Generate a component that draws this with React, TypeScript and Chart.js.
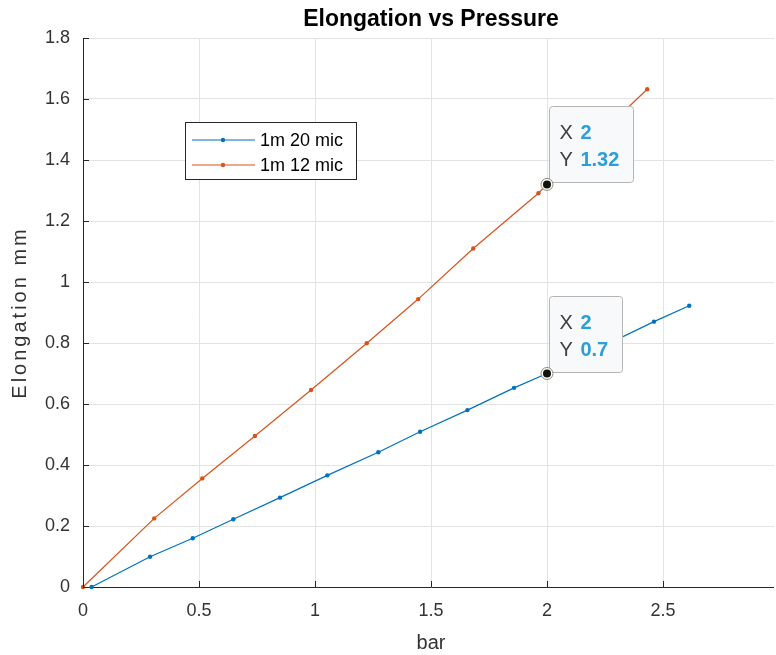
import React, { useEffect, useRef } from "react";
import { Chart, registerables } from "chart.js";

Chart.register(...registerables);

const chartTitle = "Elongation vs Pressure";
const xAxisLabel = "bar";
const yAxisLabel = "Elongation mm";

const seriesNames = ["1m 20 mic", "1m 12 mic"];
const seriesColors = ["#0072BD", "#D95319"];

const blueX = [0.037, 0.289, 0.473, 0.648, 0.849, 1.053, 1.273, 1.453, 1.657, 1.858, 2.0, 2.461, 2.613];
const blueY = [0.0, 0.099, 0.16, 0.222, 0.293, 0.366, 0.442, 0.509, 0.58, 0.653, 0.7, 0.87, 0.922];

const orangeX = [0.0, 0.307, 0.514, 0.741, 0.983, 1.223, 1.445, 1.682, 1.963, 2.0, 2.432];
const orangeY = [0.0, 0.225, 0.356, 0.495, 0.646, 0.799, 0.944, 1.11, 1.291, 1.32, 1.632];

const xTicks = [0, 0.5, 1, 1.5, 2, 2.5];
const xTickLabels = ["0", "0.5", "1", "1.5", "2", "2.5"];
const yTicks = [0, 0.2, 0.4, 0.6, 0.8, 1, 1.2, 1.4, 1.6, 1.8];
const yTickLabels = ["0", "0.2", "0.4", "0.6", "0.8", "1", "1.2", "1.4", "1.6", "1.8"];

// data tips: which series, and the point they mark
const tipSeries = [1, 0];
const tipX = [2, 2];
const tipY = [1.32, 0.7];

const FONT = '"Liberation Sans", Arial, Helvetica, sans-serif';
const AXIS_COLOR = "#262626";
const TEXT_COLOR = "#333333";
const GRID_COLOR = "#e3e3e3";

const decorPlugin = {
  id: "decor",
  beforeDatasetsDraw(chart: any) {
    // vertical grid lines at the x ticks
    const ctx: CanvasRenderingContext2D = chart.ctx;
    const xs = chart.scales.x;
    const area = chart.chartArea;
    ctx.save();
    ctx.strokeStyle = GRID_COLOR;
    ctx.lineWidth = 1;
    ctx.beginPath();
    xTicks.forEach((v) => {
      if (v === 0) return;
      const px = Math.round(xs.getPixelForValue(v)) + 0.5;
      ctx.moveTo(px, area.top);
      ctx.lineTo(px, area.bottom);
    });
    ctx.stroke();
    ctx.restore();
  },
  afterDraw(chart: any) {
    const ctx: CanvasRenderingContext2D = chart.ctx;
    const xs = chart.scales.x;
    const ys = chart.scales.y;
    const area = chart.chartArea;

    // title, centred over the plot area
    ctx.save();
    ctx.font = `bold 23px ${FONT}`;
    ctx.fillStyle = "#000000";
    ctx.textAlign = "center";
    ctx.textBaseline = "middle";
    ctx.fillText(chartTitle, (xs.getPixelForValue(0) + xs.getPixelForValue(3)) / 2, 20);
    ctx.restore();

    // inward tick marks
    ctx.save();
    ctx.strokeStyle = AXIS_COLOR;
    ctx.lineWidth = 1;
    ctx.beginPath();
    xTicks.forEach((v) => {
      const px = Math.round(xs.getPixelForValue(v)) + 0.5;
      ctx.moveTo(px, area.bottom);
      ctx.lineTo(px, area.bottom - 6);
    });
    yTicks.forEach((v) => {
      const py = Math.round(ys.getPixelForValue(v)) + 0.5;
      ctx.moveTo(area.left, py);
      ctx.lineTo(area.left + 6, py);
    });
    ctx.stroke();
    ctx.restore();

    // y axis label
    ctx.save();
    ctx.translate(20, (area.top + area.bottom) / 2);
    ctx.rotate(-Math.PI / 2);
    (ctx as any).letterSpacing = "3px";
    ctx.font = `20px ${FONT}`;
    ctx.fillStyle = TEXT_COLOR;
    ctx.textAlign = "center";
    ctx.textBaseline = "middle";
    ctx.fillText(yAxisLabel, 0, 0);
    ctx.restore();

    // legend box
    ctx.save();
    const lx = 185.5, ly = 122.5, lw = 171, lh = 57;
    ctx.fillStyle = "#ffffff";
    ctx.fillRect(lx, ly, lw, lh);
    ctx.strokeStyle = AXIS_COLOR;
    ctx.lineWidth = 1;
    ctx.strokeRect(lx, ly, lw, lh);
    chart.data.datasets.forEach((ds: any, i: number) => {
      const ry = 140 + i * 25;
      ctx.strokeStyle = ds.borderColor;
      ctx.lineWidth = 1.2;
      ctx.beginPath();
      ctx.moveTo(192, ry);
      ctx.lineTo(255, ry);
      ctx.stroke();
      ctx.fillStyle = ds.borderColor;
      ctx.beginPath();
      ctx.arc(223, ry, 2.2, 0, Math.PI * 2);
      ctx.fill();
      ctx.fillStyle = "#000000";
      ctx.font = `18px ${FONT}`;
      ctx.textAlign = "left";
      ctx.textBaseline = "middle";
      ctx.fillText(ds.label, 260, ry + 1);
    });
    ctx.restore();

    // data tips
    tipX.forEach((tx, i) => {
      const px = xs.getPixelForValue(tx);
      const py = ys.getPixelForValue(tipY[i]);
      const rows = [
        ["X", String(tx)],
        ["Y", String(tipY[i])],
      ];
      ctx.save();
      let maxW = 0;
      rows.forEach(([l, v]) => {
        ctx.font = `20px ${FONT}`;
        const a = ctx.measureText(l + " ").width;
        ctx.font = `bold 20px ${FONT}`;
        const b = ctx.measureText(v).width;
        maxW = Math.max(maxW, a + b + 2);
      });
      const left = Math.round(px + 2) + 0.5;
      const bottom = Math.round(py - 2) + 0.5;
      const w = Math.round(9 + maxW + 15);
      const h = 76;
      const top = bottom - h;
      const r = 3;
      ctx.beginPath();
      ctx.moveTo(left + r, top);
      ctx.lineTo(left + w - r, top);
      ctx.arcTo(left + w, top, left + w, top + r, r);
      ctx.lineTo(left + w, bottom - r);
      ctx.arcTo(left + w, bottom, left + w - r, bottom, r);
      ctx.lineTo(left + r, bottom);
      ctx.arcTo(left, bottom, left, bottom - r, r);
      ctx.lineTo(left, top + r);
      ctx.arcTo(left, top, left + r, top, r);
      ctx.closePath();
      ctx.fillStyle = "#f8f9fb";
      ctx.fill();
      ctx.strokeStyle = "#b4b4b4";
      ctx.lineWidth = 1;
      ctx.stroke();

      rows.forEach(([l, v], k) => {
        const cy = top + 27 + k * 27;
        ctx.font = `20px ${FONT}`;
        ctx.fillStyle = "#404040";
        ctx.textAlign = "left";
        ctx.textBaseline = "middle";
        ctx.fillText(l, left + 10, cy);
        const a = ctx.measureText(l + " ").width;
        ctx.font = `bold 20px ${FONT}`;
        ctx.fillStyle = "#2a9fd8";
        ctx.fillText(v, left + 10 + a + 2, cy);
      });

      // marker
      ctx.beginPath();
      ctx.arc(px, py, 6, 0, Math.PI * 2);
      ctx.fillStyle = "rgba(255,255,230,0.9)";
      ctx.fill();
      ctx.strokeStyle = "#8a8a8a";
      ctx.lineWidth = 1;
      ctx.stroke();
      ctx.beginPath();
      ctx.arc(px, py, 4, 0, Math.PI * 2);
      ctx.fillStyle = "#111111";
      ctx.fill();
      ctx.restore();
    });
  },
};

export default function App() {
  const ref = useRef<HTMLCanvasElement | null>(null);

  useEffect(() => {
    if (!ref.current) return;
    Chart.defaults.font.family = FONT;
    const toPts = (xsArr: number[], ysArr: number[]) => xsArr.map((x, i) => ({ x, y: ysArr[i] }));
    const chart = new Chart(ref.current, {
      type: "scatter",
      data: {
        datasets: [
          {
            label: seriesNames[0],
            data: toPts(blueX, blueY),
            borderColor: seriesColors[0],
            backgroundColor: seriesColors[0],
            showLine: true,
            borderWidth: 1.2,
            pointRadius: 2.2,
            pointBorderWidth: 0,
            clip: false as any,
          },
          {
            label: seriesNames[1],
            data: toPts(orangeX, orangeY),
            borderColor: seriesColors[1],
            backgroundColor: seriesColors[1],
            showLine: true,
            borderWidth: 1.2,
            pointRadius: 2.2,
            pointBorderWidth: 0,
            clip: false as any,
          },
        ],
      },
      options: {
        animation: false,
        responsive: false,
        devicePixelRatio: 1,
        events: [],
        layout: { padding: { left: 0, right: 5, top: 38, bottom: 0 } },
        plugins: {
          legend: { display: false },
          tooltip: { enabled: false },
          title: { display: false },
        },
        scales: {
          x: {
            type: "linear",
            position: "bottom",
            min: 0,
            max: 3,
            afterBuildTicks: (s: any) => {
              s.ticks = xTicks.map((v) => ({ value: v }));
            },
            afterFit: (s: any) => {
              s.height = 68;
            },
            ticks: {
              color: TEXT_COLOR,
              font: { size: 18, family: FONT },
              padding: 13,
              maxRotation: 0,
              callback: (_v: any, i: number) => xTickLabels[i],
            },
            grid: { display: false, drawOnChartArea: false, drawTicks: false },
            border: { display: true, color: AXIS_COLOR, width: 1 },
            title: {
              display: true,
              text: xAxisLabel,
              color: TEXT_COLOR,
              font: { size: 20, family: FONT },
              padding: { top: 0, bottom: 0 },
            },
          },
          y: {
            type: "linear",
            min: 0,
            max: 1.8,
            afterBuildTicks: (s: any) => {
              s.ticks = yTicks.map((v) => ({ value: v }));
            },
            afterFit: (s: any) => {
              s.width = 83;
            },
            ticks: {
              color: TEXT_COLOR,
              font: { size: 18, family: FONT },
              padding: 13,
              callback: (_v: any, i: number) => yTickLabels[i],
            },
            grid: { color: GRID_COLOR, drawTicks: false, lineWidth: 1 },
            border: { display: true, color: AXIS_COLOR, width: 1 },
          },
        },
      } as any,
      plugins: [decorPlugin],
    });
    return () => chart.destroy();
  }, []);

  return (
    <div
      style={{
        position: "fixed",
        left: 0,
        top: 0,
        width: 774,
        height: 655,
        overflow: "hidden",
        background: "#ffffff",
      }}
    >
      <canvas ref={ref} width={784} height={655} style={{ width: 784, height: 655, display: "block" }} />
    </div>
  );
}
